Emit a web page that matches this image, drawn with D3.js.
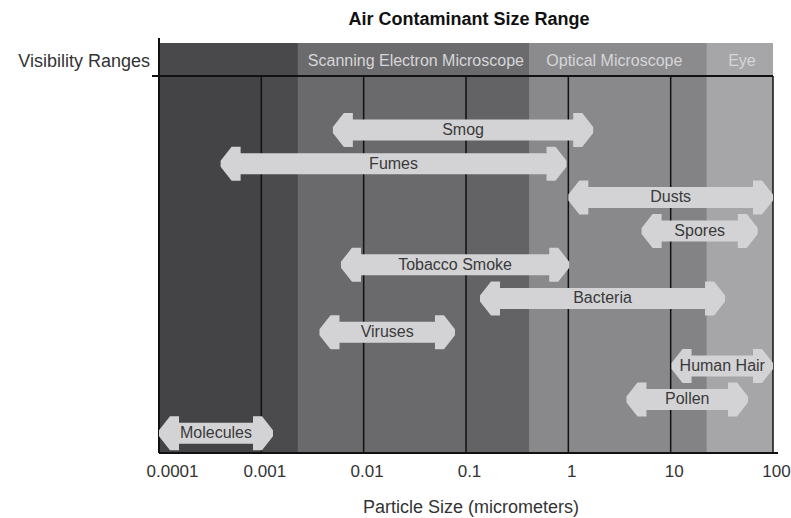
<!DOCTYPE html>
<html>
<head>
<meta charset="utf-8">
<script src="https://cdn.jsdelivr.net/npm/d3@7"></script>
<style>
  body { margin: 0; background: #fff; }
  text { font-family: "Liberation Sans", Arial, sans-serif; }
</style>
</head>
<body>
<div id="chart"></div>
<script>
// contaminants, top to bottom, with their size range in micrometers
const names = ['Smog', 'Fumes', 'Dusts', 'Spores', 'Tobacco Smoke', 'Bacteria', 'Viruses', 'Human Hair', 'Pollen', 'Molecules'];
const lows  = [0.005, 0.0004, 1, 5.2, 0.006, 0.137, 0.0037, 10.2, 3.7, 0.0001];
const highs = [1.75, 0.96, 100, 71, 1.02, 34, 0.078, 100, 57, 0.0013];

// visibility ranges (header strip)
const visNames = ['', 'Scanning Electron Microscope', 'Optical Microscope', 'Eye'];
const visFrom  = [0.0001, 0.00228, 0.42, 22.6];
const visTo    = [0.00228, 0.42, 22.6, 100];

// background shading under the plot
const shadeFrom = [0.0001, 0.001, 0.00228, 0.1, 0.42, 10, 22.6];
const shadeTo   = [0.001, 0.00228, 0.1, 0.42, 10, 22.6, 100];

const tickVals   = [0.0001, 0.001, 0.01, 0.1, 1, 10, 100];
const tickLabels = ['0.0001', '0.001', '0.01', '0.1', '1', '10', '100'];

const width = 791, height = 518;
const margin = { top: 76, bottom: 65, left: 159, right: 18 };
const bandTop = 43;

const visColors = ['#49494b', '#6b6b6e', '#8b8b8e', '#a6a6a9'];
const shadeColors = ['#444447', '#4b4b4e', '#6a6a6d', '#636366', '#89898c', '#838386', '#a6a6a9'];

const svg = d3.select('#chart')
    .append('svg')
    .attr('width', width)
    .attr('height', height);

const x = d3.scaleLog()
    .domain([0.0001, 100])
    .range([margin.left, width - margin.right]);

const y = d3.scalePoint()
    .domain(names)
    .range([130, 433.3]);

const bottom = height - margin.bottom;

// title
svg.append('text')
    .attr('x', 469)
    .attr('y', 25)
    .attr('text-anchor', 'middle')
    .attr('font-size', 18)
    .attr('font-weight', 'bold')
    .attr('fill', '#111')
    .text('Air Contaminant Size Range');

// background shading
svg.append('g')
    .selectAll('rect')
    .data(shadeFrom)
    .join('rect')
    .attr('x', d => x(d))
    .attr('y', margin.top)
    .attr('width', (d, i) => x(shadeTo[i]) - x(d))
    .attr('height', bottom - margin.top)
    .attr('fill', (d, i) => shadeColors[i]);

// header strip
const vis = svg.append('g');
vis.selectAll('rect')
    .data(visFrom)
    .join('rect')
    .attr('x', d => x(d))
    .attr('y', bandTop)
    .attr('width', (d, i) => x(visTo[i]) - x(d))
    .attr('height', margin.top - bandTop)
    .attr('fill', (d, i) => visColors[i]);

vis.selectAll('text')
    .data(visFrom)
    .join('text')
    .attr('x', (d, i) => (x(d) + x(visTo[i])) / 2)
    .attr('dx', (d, i) => i === 2 ? -4 : 2)
    .attr('y', 66)
    .attr('text-anchor', 'middle')
    .attr('font-size', 16)
    .attr('fill', '#d6d6d8')
    .text((d, i) => visNames[i]);

svg.append('text')
    .attr('x', 150)
    .attr('y', 67)
    .attr('text-anchor', 'end')
    .attr('font-size', 18)
    .attr('fill', '#333')
    .text('Visibility Ranges');

// decade grid lines
svg.append('g')
    .selectAll('line')
    .data(tickVals.slice(1, -1))
    .join('line')
    .attr('x1', d => x(d))
    .attr('x2', d => x(d))
    .attr('y1', margin.top)
    .attr('y2', bottom)
    .attr('stroke', '#111')
    .attr('stroke-width', 1.5);

// frame lines
svg.append('line')
    .attr('x1', x(0.0001)).attr('x2', x(0.0001))
    .attr('y1', 38).attr('y2', bottom)
    .attr('stroke', '#111').attr('stroke-width', 2);
svg.append('line')
    .attr('x1', x(100)).attr('x2', x(100))
    .attr('y1', margin.top).attr('y2', bottom)
    .attr('stroke', '#111').attr('stroke-width', 1.5);
svg.append('line')
    .attr('x1', 152).attr('x2', x(100))
    .attr('y1', margin.top).attr('y2', margin.top)
    .attr('stroke', '#111').attr('stroke-width', 2);
svg.append('line')
    .attr('x1', x(0.0001)).attr('x2', x(100) + 5)
    .attr('y1', bottom).attr('y2', bottom)
    .attr('stroke', '#111').attr('stroke-width', 2);

// double headed arrows
function arrowPath(x0, x1, yc) {
    const sh = 10.5, hh = 17, tip = 3, hl = 20, slope = 11;
    return d3.line()([
        [x0, yc - tip], [x0 + slope, yc - hh], [x0 + hl, yc - hh], [x0 + hl, yc - sh],
        [x1 - hl, yc - sh], [x1 - hl, yc - hh], [x1 - slope, yc - hh], [x1, yc - tip],
        [x1, yc + tip], [x1 - slope, yc + hh], [x1 - hl, yc + hh], [x1 - hl, yc + sh],
        [x0 + hl, yc + sh], [x0 + hl, yc + hh], [x0 + slope, yc + hh], [x0, yc + tip]
    ]) + 'Z';
}

const arrows = svg.append('g');
arrows.selectAll('path')
    .data(names)
    .join('path')
    .attr('d', (d, i) => arrowPath(x(lows[i]), x(highs[i]), y(d)))
    .attr('fill', '#d3d3d5');

arrows.selectAll('text')
    .data(names)
    .join('text')
    .attr('x', (d, i) => (x(lows[i]) + x(highs[i])) / 2)
    .attr('y', d => y(d))
    .attr('dy', '0.3em')
    .attr('text-anchor', 'middle')
    .attr('font-size', 16)
    .attr('fill', '#3a3a3a')
    .text(d => d);

// x axis
function xAxis(g) {
    g.attr('transform', `translate(0,${bottom})`)
        .call(d3.axisBottom(x).tickValues(tickVals).tickFormat((d, i) => tickLabels[i]).tickSize(0).tickPadding(12))
        .attr('font-size', 17)
        .attr('font-family', '"Liberation Sans", Arial, sans-serif');
    g.select('.domain').remove();
    g.selectAll('text')
        .attr('fill', '#333')
        .attr('dx', (d, i) => i === 0 ? 13 : 3);
}
svg.append('g').call(xAxis);

svg.append('text')
    .attr('x', 471)
    .attr('y', 513)
    .attr('text-anchor', 'middle')
    .attr('font-size', 18)
    .attr('fill', '#333')
    .text('Particle Size (micrometers)');
</script>
</body>
</html>
